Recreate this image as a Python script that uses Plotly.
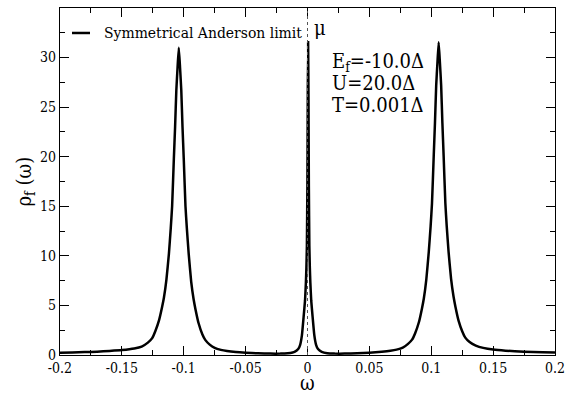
import plotly.graph_objects as go

# spectral density
omega = [
    -0.200, -0.190, -0.180, -0.170, -0.160, -0.150, -0.140, -0.134, -0.129, -0.1255,
    -0.123, -0.120, -0.1175, -0.116, -0.114, -0.112, -0.1105, -0.1094, -0.108, -0.107,
    -0.106, -0.105, -0.104, -0.103, -0.102, -0.101, -0.100, -0.0986, -0.0975, -0.096,
    -0.094, -0.092, -0.0905, -0.088, -0.085, -0.0825, -0.079, -0.075, -0.070, -0.065,
    -0.058, -0.050, -0.040, -0.030, -0.022, -0.016, -0.012, -0.0105, -0.0075, -0.006,
    -0.0045, -0.0031, -0.002, -0.0013, -0.0009, -0.0005, -0.0001, 0.0002, 0.0005, 0.0008,
    0.0011, 0.0015, 0.0019, 0.0023, 0.003, 0.0041, 0.0055, 0.007, 0.0085, 0.0115,
    0.016, 0.022, 0.030, 0.040, 0.050, 0.060, 0.067, 0.072, 0.077, 0.081,
    0.0845, 0.087, 0.090, 0.0925, 0.094, 0.096, 0.098, 0.0995, 0.1006, 0.102,
    0.103, 0.104, 0.105, 0.106, 0.107, 0.108, 0.109, 0.110, 0.1114, 0.1125,
    0.114, 0.116, 0.118, 0.1195, 0.122, 0.125, 0.1275, 0.131, 0.136, 0.142,
    0.150, 0.160, 0.175, 0.190, 0.200,
]
rho = [
    0.22, 0.25, 0.29, 0.34, 0.41, 0.50, 0.66, 0.85, 1.25, 1.7,
    2.4, 3.5, 4.85, 5.8, 7.6, 10.2, 12.8, 15.0, 19.8, 23.0,
    26.7, 29.0, 31.0, 29.0, 26.7, 23.0, 19.8, 15.0, 12.8, 10.2,
    7.4, 5.6, 4.6, 3.2, 2.1, 1.5, 1.05, 0.72, 0.52, 0.40,
    0.30, 0.23, 0.17, 0.14, 0.14, 0.18, 0.26, 0.32, 0.6, 1.0,
    2.0, 3.9, 5.5, 7.3, 8.8, 11.0, 17.0, 26.0, 31.55, 26.0,
    17.0, 11.0, 8.8, 7.3, 5.5, 3.9, 2.0, 1.0, 0.6, 0.32,
    0.18, 0.14, 0.14, 0.17, 0.23, 0.32, 0.42, 0.54, 0.75, 1.1,
    1.55, 2.2, 3.3, 4.7, 5.7, 7.6, 10.4, 13.0, 15.3, 20.1,
    23.4, 27.2, 29.5, 31.55, 29.5, 27.2, 23.4, 20.1, 15.3, 13.0,
    10.4, 7.7, 5.9, 4.9, 3.5, 2.4, 1.75, 1.3, 0.95, 0.72,
    0.55, 0.44, 0.34, 0.28, 0.25,
]

x_tickvals = [-0.2, -0.15, -0.1, -0.05, 0, 0.05, 0.1, 0.15, 0.2]
x_ticktext = ["-0.2", "-0.15", "-0.1", "-0.05", "0", "0.05", "0.1", "0.15", "0.2"]
y_tickvals = [0, 5, 10, 15, 20, 25, 30, 35]
y_ticktext = ["0", "5", "10", "15", "20", "25", "30", "35"]

legend_label = "Symmetrical Anderson limit"
param_lines = ["E<sub>f</sub>=-10.0Δ", "U=20.0Δ", "T=0.001Δ"]
param_y = [29.6, 27.45, 25.25]
x_title = "ω"
y_title = "ρ<sub>f</sub> (ω)"

SERIF = "DejaVu Serif Condensed, DejaVu Serif"

fig = go.Figure()
fig.add_trace(go.Scatter(x=omega, y=rho, mode="lines",
                         line=dict(color="black", width=2.5, shape="spline", smoothing=0.4),
                         name=legend_label, showlegend=False))

# chemical potential marker
fig.add_shape(type="line", xref="x", yref="y", x0=0, x1=0, y0=0, y1=34.7,
              line=dict(color="#555555", width=1, dash="dot"))
fig.add_annotation(x=0.0105, y=33.0, xref="x", yref="y", text="μ", showarrow=False,
                   font=dict(family=SERIF, size=20, color="black"))

# legend drawn by hand (short sample line, Grace style)
fig.add_shape(type="line", xref="paper", yref="paper", x0=0.0242, x1=0.0606,
              y0=0.928, y1=0.928, line=dict(color="black", width=2.5))
fig.add_annotation(x=0.0848, y=0.928, xref="paper", yref="paper", text=legend_label,
                   showarrow=False, xanchor="left", yanchor="middle",
                   font=dict(family=SERIF, size=15.5, color="black"))

for txt, yy in zip(param_lines, param_y):
    fig.add_annotation(x=0.0178, y=yy, xref="x", yref="y", text=txt, showarrow=False,
                       xanchor="left", yanchor="middle",
                       font=dict(family=SERIF, size=20, color="black"))

# axis titles as free text for exact placement
fig.add_annotation(x=0.501, y=-0.082, xref="paper", yref="paper", text=x_title,
                   showarrow=False, xanchor="center", yanchor="middle",
                   font=dict(family=SERIF, size=20, color="black"))
fig.add_annotation(x=-0.0727, y=0.5, xref="paper", yref="paper", text=y_title,
                   showarrow=False, xanchor="center", yanchor="middle", textangle=-90,
                   font=dict(family=SERIF, size=20, color="black"))

axis_common = dict(showline=True, linecolor="black", linewidth=1.2, mirror="allticks",
                   ticks="inside", ticklen=9, tickwidth=1.2, tickcolor="black",
                   showgrid=False, zeroline=False, automargin=False,
                   tickfont=dict(family=SERIF, size=14, color="black"))

fig.update_xaxes(range=[-0.2, 0.2], tickvals=x_tickvals, ticktext=x_ticktext,
                 minor=dict(ticks="inside", ticklen=5, dtick=0.025, tickwidth=1.2,
                            tickcolor="black", showgrid=False),
                 **axis_common)
fig.update_yaxes(range=[0, 35], tickvals=y_tickvals, ticktext=y_ticktext,
                 minor=dict(ticks="inside", ticklen=5, dtick=2.5, tickwidth=1.2,
                            tickcolor="black", showgrid=False),
                 **axis_common)

fig.update_layout(width=566, height=395, margin=dict(l=60, r=11, t=8, b=40),
                  font=dict(family=SERIF),
                  paper_bgcolor="white", plot_bgcolor="white")

fig.write_html("out.html")
